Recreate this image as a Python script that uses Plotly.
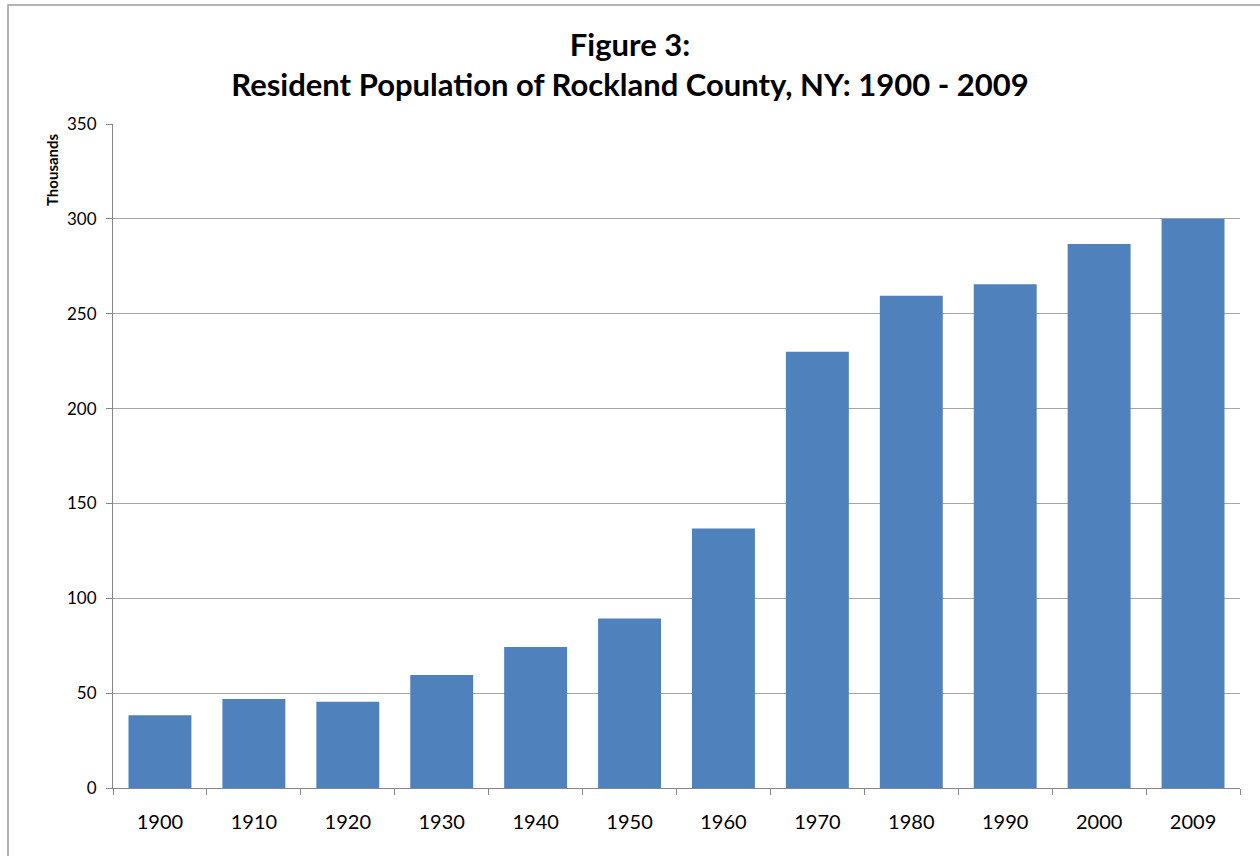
import plotly.graph_objects as go

# Census years and resident population (thousands)
years = ["1900", "1910", "1920", "1930", "1940", "1950",
         "1960", "1970", "1980", "1990", "2000", "2009"]
population_k = [38.3, 46.9, 45.5, 59.6, 74.3, 89.3,
                136.8, 229.9, 259.5, 265.5, 286.8, 300.0]
y_ticks = [0, 50, 100, 150, 200, 250, 300, 350]

W, H = 1260, 856
L, R, T, B = 113, 20, 124, 68
plot_w = W - L - R
plot_h = H - T - B

FONT = "Lato, 'Open Sans', sans-serif"

fig = go.Figure(
    go.Bar(
        x=years,
        y=population_k,
        marker=dict(color="#4F81BD", line=dict(width=0)),
        hoverinfo="x+y",
    )
)

fig.update_layout(
    width=W,
    height=H,
    margin=dict(l=L, r=R, t=T, b=B),
    paper_bgcolor="white",
    plot_bgcolor="white",
    bargap=0.33,
    showlegend=False,
    font=dict(family=FONT, color="black"),
    title=dict(
        text="<b>Figure 3:</b><br><b>Resident Population of Rockland County, NY: 1900 - 2009</b>",
        x=0.5,
        xref="container",
        xanchor="center",
        y=1 - 56 / H,
        yref="container",
        yanchor="middle",
        font=dict(family=FONT, size=31, color="black"),
    ),
    xaxis=dict(
        type="category",
        tickson="boundaries",
        ticks="outside",
        ticklen=6,
        tickcolor="#868686",
        showline=True,
        linecolor="#868686",
        linewidth=1,
        showgrid=False,
        tickfont=dict(family=FONT, size=20, color="black"),
        ticklabelstandoff=16,
    ),
    yaxis=dict(
        range=[0, 350],
        tickvals=y_ticks,
        ticks="outside",
        ticklen=6,
        tickcolor="#868686",
        showline=True,
        linecolor="#868686",
        linewidth=1,
        showgrid=True,
        gridcolor="#a6a6a6",
        gridwidth=1,
        zeroline=False,
        tickfont=dict(family=FONT, size=17, color="black"),
        ticklabelstandoff=6,
    ),
    annotations=[
        dict(
            text="<b>Thousands</b>",
            textangle=-90,
            xref="paper",
            yref="paper",
            x=(52 - L) / plot_w,
            y=(788 - 170) / plot_h,
            xanchor="center",
            yanchor="middle",
            showarrow=False,
            font=dict(family=FONT, size=15, color="black"),
        )
    ],
    shapes=[
        # chart-area frame
        dict(
            type="rect",
            xref="paper",
            yref="paper",
            x0=(8 - L) / plot_w,
            x1=(1270 - L) / plot_w,
            y0=(788 - 870) / plot_h,
            y1=(788 - 5) / plot_h,
            line=dict(color="#9a9a9a", width=1.5),
            fillcolor="rgba(0,0,0,0)",
            layer="below",
        )
    ],
)

fig.write_html("out.html")
